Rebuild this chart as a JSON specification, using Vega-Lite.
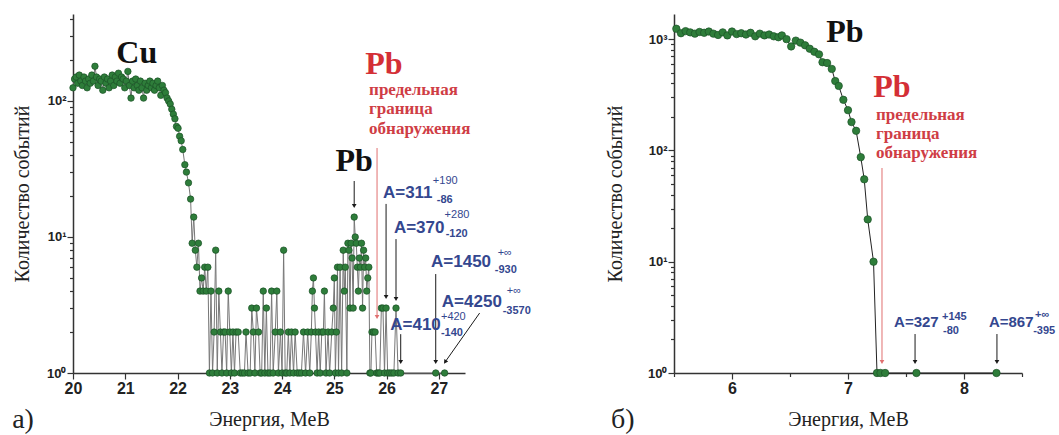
{
"$schema": "https://vega.github.io/schema/vega-lite/v6.json",
"background": "white",
"padding": {"left": 12, "top": 13, "right": 0, "bottom": 0},
"config": {"view": {"stroke": null}, "axis": {"grid": false, "domainColor": "#333", "domainWidth": 1.5, "tickColor": "#333", "tickWidth": 1.2, "labelFont": "'Liberation Sans', Arial, Helvetica, sans-serif", "labelFontWeight": "bold", "labelColor": "#222", "titleFont": "'Liberation Serif', 'Times New Roman', 'DejaVu Serif', serif", "titleFontWeight": "normal", "titleFontSize": 20, "titleColor": "#222", "labelOverlap": false, "labelFlush": false}},
"datasets": {
"a": [
{"E":20.00,"n":125},{"E":20.03,"n":145},{"E":20.06,"n":150},{"E":20.09,"n":135},{"E":20.12,"n":155},{"E":20.15,"n":140},{"E":20.18,"n":130},{"E":20.21,"n":150},{"E":20.24,"n":140},{"E":20.27,"n":125},{"E":20.30,"n":145},{"E":20.33,"n":135},{"E":20.36,"n":155},{"E":20.39,"n":140},{"E":20.42,"n":180},{"E":20.45,"n":150},{"E":20.48,"n":130},{"E":20.51,"n":145},{"E":20.54,"n":140},{"E":20.57,"n":120},{"E":20.60,"n":150},{"E":20.63,"n":135},{"E":20.66,"n":145},{"E":20.69,"n":125},{"E":20.72,"n":140},{"E":20.75,"n":155},{"E":20.78,"n":130},{"E":20.81,"n":150},{"E":20.84,"n":140},{"E":20.87,"n":160},{"E":20.90,"n":135},{"E":20.93,"n":150},{"E":20.96,"n":145},{"E":20.99,"n":125},{"E":21.02,"n":140},{"E":21.05,"n":165},{"E":21.08,"n":130},{"E":21.11,"n":105},{"E":21.14,"n":140},{"E":21.17,"n":125},{"E":21.20,"n":145},{"E":21.23,"n":130},{"E":21.26,"n":120},{"E":21.29,"n":140},{"E":21.32,"n":125},{"E":21.35,"n":105},{"E":21.38,"n":135},{"E":21.41,"n":120},{"E":21.44,"n":130},{"E":21.47,"n":140},{"E":21.50,"n":125},{"E":21.53,"n":135},{"E":21.56,"n":120},{"E":21.59,"n":130},{"E":21.62,"n":140},{"E":21.65,"n":125},{"E":21.68,"n":110},{"E":21.71,"n":130},{"E":21.74,"n":120},{"E":21.77,"n":115},{"E":21.80,"n":105},
{"E":21.83,"n":100},{"E":21.86,"n":95},{"E":21.89,"n":87},{"E":21.92,"n":80},{"E":21.95,"n":74},{"E":21.98,"n":65},{"E":22.01,"n":63},{"E":22.04,"n":55},{"E":22.07,"n":51},{"E":22.10,"n":44},{"E":22.14,"n":34},{"E":22.17,"n":30},{"E":22.21,"n":25},{"E":22.25,"n":19},{"E":22.28,"n":9},{"E":22.31,"n":14},{"E":22.34,"n":8},{"E":22.37,"n":6},{"E":22.40,"n":9},{"E":22.43,"n":4},{"E":22.46,"n":5},{"E":22.49,"n":4},{"E":22.52,"n":6},{"E":22.55,"n":4},{"E":22.58,"n":6},{"E":22.61,"n":1},{"E":22.64,"n":4},{"E":22.67,"n":1},{"E":22.70,"n":2},{"E":22.73,"n":8},{"E":22.76,"n":1},{"E":22.79,"n":4},{"E":22.82,"n":2},{"E":22.85,"n":1},{"E":22.88,"n":2},{"E":22.91,"n":2},{"E":22.94,"n":1},{"E":22.97,"n":4},{"E":23.00,"n":2},{"E":23.03,"n":1},{"E":23.06,"n":2},{"E":23.09,"n":1},{"E":23.12,"n":2},{"E":23.16,"n":2},{"E":23.20,"n":1},{"E":23.24,"n":1},{"E":23.28,"n":1},{"E":23.31,"n":2},{"E":23.35,"n":1},{"E":23.39,"n":1},{"E":23.42,"n":3},{"E":23.45,"n":2},{"E":23.48,"n":1},{"E":23.51,"n":3},{"E":23.55,"n":2},{"E":23.58,"n":1},{"E":23.61,"n":1},{"E":23.64,"n":4},{"E":23.67,"n":1},{"E":23.70,"n":3},{"E":23.73,"n":1},{"E":23.77,"n":1},{"E":23.80,"n":4},{"E":23.83,"n":1},{"E":23.87,"n":2},{"E":23.90,"n":4},{"E":23.93,"n":1},{"E":23.97,"n":2},{"E":24.00,"n":1},{"E":24.03,"n":8},{"E":24.06,"n":1},{"E":24.09,"n":1},{"E":24.12,"n":2},{"E":24.15,"n":1},{"E":24.18,"n":2},{"E":24.22,"n":1},{"E":24.25,"n":2},{"E":24.29,"n":1},{"E":24.33,"n":1},{"E":24.37,"n":1},{"E":24.41,"n":2},{"E":24.45,"n":1},{"E":24.49,"n":2},{"E":24.53,"n":1},{"E":24.56,"n":2},{"E":24.58,"n":4},{"E":24.60,"n":5},{"E":24.62,"n":3},{"E":24.64,"n":2},{"E":24.67,"n":1},{"E":24.70,"n":2},{"E":24.73,"n":1},{"E":24.76,"n":2},{"E":24.79,"n":2},{"E":24.81,"n":4},{"E":24.84,"n":1},{"E":24.88,"n":2},{"E":24.91,"n":1},{"E":24.95,"n":2},{"E":24.98,"n":3},{"E":25.00,"n":5},{"E":25.02,"n":1},{"E":25.04,"n":2},{"E":25.06,"n":6},{"E":25.08,"n":1},{"E":25.11,"n":6},{"E":25.14,"n":1},{"E":25.17,"n":8},{"E":25.19,"n":4},{"E":25.21,"n":6},{"E":25.24,"n":1},{"E":25.26,"n":9},{"E":25.28,"n":8},{"E":25.30,"n":3},{"E":25.32,"n":9},{"E":25.34,"n":7},{"E":25.36,"n":3},{"E":25.38,"n":14},{"E":25.40,"n":10},{"E":25.42,"n":9},{"E":25.44,"n":6},{"E":25.46,"n":4},{"E":25.48,"n":7},{"E":25.50,"n":6},{"E":25.52,"n":9},{"E":25.54,"n":3},{"E":25.56,"n":8},{"E":25.58,"n":6},{"E":25.60,"n":7},{"E":25.62,"n":4},{"E":25.64,"n":5},{"E":25.66,"n":6},{"E":25.68,"n":1},{"E":25.70,"n":1},{"E":25.72,"n":2},{"E":25.75,"n":2},{"E":25.78,"n":2},{"E":25.81,"n":1},{"E":25.84,"n":1},{"E":25.87,"n":1},{"E":25.90,"n":3},{"E":25.93,"n":3},{"E":25.96,"n":1},{"E":25.99,"n":3},{"E":26.02,"n":1},{"E":26.06,"n":1},{"E":26.10,"n":1},{"E":26.14,"n":1},{"E":26.18,"n":3},{"E":26.22,"n":1},{"E":26.27,"n":1},{"E":26.94,"n":1},{"E":27.11,"n":1}
],
"b": [
{"E":5.52,"n":1240},{"E":5.56,"n":1130},{"E":5.60,"n":1180},{"E":5.64,"n":1150},{"E":5.68,"n":1120},{"E":5.72,"n":1160},{"E":5.76,"n":1140},{"E":5.80,"n":1170},{"E":5.84,"n":1120},{"E":5.88,"n":1090},{"E":5.92,"n":1150},{"E":5.96,"n":1080},{"E":6.00,"n":1170},{"E":6.04,"n":1110},{"E":6.08,"n":1130},{"E":6.12,"n":1100},{"E":6.16,"n":1140},{"E":6.20,"n":1060},{"E":6.24,"n":1120},{"E":6.28,"n":1080},{"E":6.32,"n":1100},{"E":6.36,"n":1060},{"E":6.40,"n":1040},{"E":6.43,"n":1080},{"E":6.47,"n":1000},{"E":6.51,"n":860},{"E":6.55,"n":970},{"E":6.59,"n":930},{"E":6.63,"n":880},{"E":6.67,"n":820},{"E":6.71,"n":770},{"E":6.75,"n":730},{"E":6.78,"n":620},{"E":6.82,"n":610},{"E":6.86,"n":540},{"E":6.89,"n":420},{"E":6.92,"n":380},{"E":6.96,"n":285},{"E":7.00,"n":230},{"E":7.03,"n":180},{"E":7.07,"n":150},{"E":7.11,"n":87},{"E":7.14,"n":55},{"E":7.17,"n":24},{"E":7.22,"n":10},{"E":7.25,"n":1},{"E":7.28,"n":1},{"E":7.32,"n":1},{"E":7.59,"n":1},{"E":8.28,"n":1}
],
"tL": [
{"E":21.22,"n":190,"t":"Cu","k":"big"},{"E":25.38,"n":30.6,"t":"Pb","k":"big"},{"E":25.95,"n":158,"t":"Pb","k":"bigred"},
{"E":25.665,"n":110.7,"t":"предельная","k":"red"},{"E":25.665,"n":80.2,"t":"граница","k":"red"},{"E":25.665,"n":57.2,"t":"обнаружения","k":"red"},
{"E":25.93,"n":19.4,"t":"A=311","k":"main"},{"E":26.885,"n":24.6,"t":"+190","k":"sup"},{"E":26.96,"n":17.8,"t":"-86","k":"sub"},
{"E":26.14,"n":10.7,"t":"A=370","k":"main"},{"E":27.11,"n":13.8,"t":"+280","k":"sup"},{"E":27.13,"n":10,"t":"-120","k":"sub"},
{"E":26.85,"n":6.02,"t":"A=1450","k":"main"},{"E":28.125,"n":7.24,"t":"+∞","k":"sup"},{"E":28.07,"n":5.43,"t":"-930","k":"sub"},
{"E":27.057,"n":3.05,"t":"A=4250","k":"main"},{"E":28.30,"n":3.78,"t":"+∞","k":"sup"},{"E":28.22,"n":2.71,"t":"-3570","k":"sub"},
{"E":26.07,"n":2.07,"t":"A=410","k":"main"},{"E":27.04,"n":2.47,"t":"+420","k":"sup"},{"E":27.04,"n":1.87,"t":"-140","k":"sub"},
{"E":18.836,"n":0.394,"t":"а)","k":"panel"}
],
"rL": [
{"E":25.38,"n":25.8,"E2":25.38,"n2":16.9,"k":"black"},
{"E":25.99,"n":17.5,"E2":25.99,"n2":3.62,"k":"black"},
{"E":26.18,"n":9.65,"E2":26.18,"n2":3.5,"k":"black"},
{"E":26.94,"n":5.34,"E2":26.94,"n2":1.205,"k":"black"},
{"E":26.27,"n":1.93,"E2":26.27,"n2":1.205,"k":"black"},
{"E":25.817,"n":45.1,"E2":25.817,"n2":2.58,"k":"red"}
],
"dL": [
{"E":27.78,"n":2.76,"E2":27.12,"n2":1.205,"k":"black"}
],
"tR": [
{"E":6.974,"n":942,"t":"Pb","k":"big"},{"E":7.379,"n":302,"t":"Pb","k":"bigred"},
{"E":7.241,"n":187.6,"t":"предельная","k":"red"},{"E":7.241,"n":126.6,"t":"граница","k":"red"},{"E":7.241,"n":85.5,"t":"обнаружения","k":"red"},
{"E":7.397,"n":2.59,"t":"A=327","k":"main"},{"E":7.81,"n":3.02,"t":"+145","k":"sup"},{"E":7.819,"n":2.22,"t":"-80","k":"sub"},
{"E":8.215,"n":2.59,"t":"A=867","k":"main"},{"E":8.612,"n":3.1,"t":"+∞","k":"sup"},{"E":8.596,"n":2.22,"t":"-395","k":"sub"},
{"E":4.957,"n":0.32,"t":"б)","k":"panel"}
],
"rR": [
{"E":7.293,"n":69.5,"E2":7.293,"n2":1.255,"k":"red"},
{"E":7.578,"n":2.24,"E2":7.578,"n2":1.255,"k":"black"},
{"E":8.284,"n":2.24,"E2":8.284,"n2":1.255,"k":"black"}
]
},
"bounds": "flush",
"spacing": 209,
"hconcat": [
{
"width": 392, "height": 359,
"layer": [
{"data": {"name": "a"}, "mark": {"type": "line", "color": "#777777", "strokeWidth": 1},
 "encoding": {
  "x": {"field": "E", "type": "quantitative", "scale": {"domain": [20, 27.5], "nice": false, "zero": false},
   "axis": {"title": "Энергия, МеВ", "values": [20,20.5,21,21.5,22,22.5,23,23.5,24,24.5,25,25.5,26,26.5,27,27.5], "labelExpr": "datum.value % 1 === 0 ? format(datum.value, 'd') : ''", "tickSize": {"condition": {"test": "datum.value % 1 === 0", "value": 6}, "value": 3.5}, "labelFontSize": 16, "labelPadding": 1, "titlePadding": 13}},
  "y": {"field": "n", "type": "quantitative", "scale": {"type": "log", "domain": [1, 436], "nice": false},
   "axis": {"title": "Количество событий", "values": [1,2,3,4,5,6,7,8,9,10,20,30,40,50,60,70,80,90,100,200,300,400], "labelExpr": "datum.value===1?'10⁰':datum.value===10?'10¹':datum.value===100?'10²':datum.value===1000?'10³':''", "tickSize": {"condition": {"test": "indexof([1,10,100,1000], datum.value) >= 0", "value": 6}, "value": 3.5}, "labelFontSize": 13, "labelPadding": 1, "titlePadding": 14}}
 }},
{"data": {"name": "a"}, "mark": {"type": "point", "filled": true, "color": "#2e7d3a", "stroke": "#1b5227", "strokeWidth": 0.7, "opacity": 1, "size": 42},
 "encoding": {"x": {"field": "E", "type": "quantitative"}, "y": {"field": "n", "type": "quantitative"}}},
{"data": {"name": "rL"}, "mark": {"type": "rule", "strokeWidth": 1},
 "encoding": {"x": {"field": "E", "type": "quantitative"}, "y": {"field": "n", "type": "quantitative"}, "x2": {"field": "E2"}, "y2": {"field": "n2"},
  "color": {"field": "k", "type": "nominal", "scale": {"domain": ["black", "red"], "range": ["#1a1a1a", "#e07070"]}, "legend": null}}},
{"data": {"name": "rL"}, "mark": {"type": "point", "shape": "triangle-down", "filled": true, "opacity": 1, "size": 22},
 "encoding": {"x": {"field": "E2", "type": "quantitative"}, "y": {"field": "n2", "type": "quantitative"},
  "color": {"field": "k", "type": "nominal", "scale": {"domain": ["black", "red"], "range": ["#1a1a1a", "#e03030"]}, "legend": null}}},
{"data": {"name": "dL"}, "mark": {"type": "rule", "strokeWidth": 1, "color": "#1a1a1a"},
 "encoding": {"x": {"field": "E", "type": "quantitative"}, "y": {"field": "n", "type": "quantitative"}, "x2": {"field": "E2"}, "y2": {"field": "n2"}}},
{"data": {"name": "dL"}, "mark": {"type": "point", "shape": "triangle-down", "filled": true, "opacity": 1, "size": 22, "angle": 34, "color": "#1a1a1a"},
 "encoding": {"x": {"field": "E2", "type": "quantitative"}, "y": {"field": "n2", "type": "quantitative"}}},
{"data": {"name": "tL"}, "transform": [{"filter": "datum.k === 'big'"}], "mark": {"type": "text", "font": "'Liberation Serif', 'Times New Roman', 'DejaVu Serif', serif", "fontWeight": "bold", "fontSize": 32, "align": "center", "baseline": "alphabetic", "color": "#111"},
 "encoding": {"x": {"field": "E", "type": "quantitative"}, "y": {"field": "n", "type": "quantitative"}, "text": {"field": "t"}}},
{"data": {"name": "tL"}, "transform": [{"filter": "datum.k === 'bigred'"}], "mark": {"type": "text", "font": "'Liberation Serif', 'Times New Roman', 'DejaVu Serif', serif", "fontWeight": "bold", "fontSize": 32, "align": "center", "baseline": "alphabetic", "color": "#d42f36"},
 "encoding": {"x": {"field": "E", "type": "quantitative"}, "y": {"field": "n", "type": "quantitative"}, "text": {"field": "t"}}},
{"data": {"name": "tL"}, "transform": [{"filter": "datum.k === 'red'"}], "mark": {"type": "text", "font": "'Liberation Serif', 'Times New Roman', 'DejaVu Serif', serif", "fontWeight": "bold", "fontSize": 17, "align": "left", "baseline": "alphabetic", "color": "#cf3d45"},
 "encoding": {"x": {"field": "E", "type": "quantitative"}, "y": {"field": "n", "type": "quantitative"}, "text": {"field": "t"}}},
{"data": {"name": "tL"}, "transform": [{"filter": "datum.k === 'main'"}], "mark": {"type": "text", "font": "'Liberation Sans', Arial, Helvetica, sans-serif", "fontWeight": "bold", "fontSize": 17, "align": "left", "baseline": "alphabetic", "color": "#34478f"},
 "encoding": {"x": {"field": "E", "type": "quantitative"}, "y": {"field": "n", "type": "quantitative"}, "text": {"field": "t"}}},
{"data": {"name": "tL"}, "transform": [{"filter": "datum.k === 'sup'"}], "mark": {"type": "text", "font": "'Liberation Sans', Arial, Helvetica, sans-serif", "fontWeight": "normal", "fontSize": 11, "align": "left", "baseline": "alphabetic", "color": "#34478f"},
 "encoding": {"x": {"field": "E", "type": "quantitative"}, "y": {"field": "n", "type": "quantitative"}, "text": {"field": "t"}}},
{"data": {"name": "tL"}, "transform": [{"filter": "datum.k === 'sub'"}], "mark": {"type": "text", "font": "'Liberation Sans', Arial, Helvetica, sans-serif", "fontWeight": "bold", "fontSize": 11, "align": "left", "baseline": "alphabetic", "color": "#34478f"},
 "encoding": {"x": {"field": "E", "type": "quantitative"}, "y": {"field": "n", "type": "quantitative"}, "text": {"field": "t"}}},
{"data": {"name": "tL"}, "transform": [{"filter": "datum.k === 'panel'"}], "mark": {"type": "text", "font": "'Liberation Serif', 'Times New Roman', 'DejaVu Serif', serif", "fontWeight": "normal", "fontSize": 28, "align": "left", "baseline": "alphabetic", "color": "#222"},
 "encoding": {"x": {"field": "E", "type": "quantitative"}, "y": {"field": "n", "type": "quantitative"}, "text": {"field": "t"}}}
]
},
{
"width": 348, "height": 359,
"layer": [
{"data": {"name": "b"}, "mark": {"type": "line", "color": "#222", "strokeWidth": 1},
 "encoding": {
  "x": {"field": "E", "type": "quantitative", "scale": {"domain": [5.5, 8.5], "nice": false, "zero": false},
   "axis": {"title": "Энергия, МеВ", "values": [5.5,6,6.5,7,7.5,8,8.5], "labelExpr": "datum.value % 1 === 0 ? format(datum.value, 'd') : ''", "tickSize": {"condition": {"test": "datum.value % 1 === 0", "value": 6}, "value": 3.5}, "labelFontSize": 16, "labelPadding": 1, "titlePadding": 13}},
  "y": {"field": "n", "type": "quantitative", "scale": {"type": "log", "domain": [1, 1682], "nice": false},
   "axis": {"title": "Количество событий", "values": [1,2,3,4,5,6,7,8,9,10,20,30,40,50,60,70,80,90,100,200,300,400,500,600,700,800,900,1000], "labelExpr": "datum.value===1?'10⁰':datum.value===10?'10¹':datum.value===100?'10²':datum.value===1000?'10³':''", "tickSize": {"condition": {"test": "indexof([1,10,100,1000], datum.value) >= 0", "value": 6}, "value": 3.5}, "labelFontSize": 13, "labelPadding": 1, "titlePadding": 22}}
 }},
{"data": {"name": "b"}, "mark": {"type": "point", "filled": true, "color": "#2e7d3a", "stroke": "#1b5227", "strokeWidth": 0.7, "opacity": 1, "size": 55},
 "encoding": {"x": {"field": "E", "type": "quantitative"}, "y": {"field": "n", "type": "quantitative"}}},
{"data": {"name": "rR"}, "mark": {"type": "rule", "strokeWidth": 1},
 "encoding": {"x": {"field": "E", "type": "quantitative"}, "y": {"field": "n", "type": "quantitative"}, "x2": {"field": "E2"}, "y2": {"field": "n2"},
  "color": {"field": "k", "type": "nominal", "scale": {"domain": ["black", "red"], "range": ["#1a1a1a", "#e07070"]}, "legend": null}}},
{"data": {"name": "rR"}, "mark": {"type": "point", "shape": "triangle-down", "filled": true, "opacity": 1, "size": 22},
 "encoding": {"x": {"field": "E2", "type": "quantitative"}, "y": {"field": "n2", "type": "quantitative"},
  "color": {"field": "k", "type": "nominal", "scale": {"domain": ["black", "red"], "range": ["#1a1a1a", "#e03030"]}, "legend": null}}},
{"data": {"name": "tR"}, "transform": [{"filter": "datum.k === 'big'"}], "mark": {"type": "text", "font": "'Liberation Serif', 'Times New Roman', 'DejaVu Serif', serif", "fontWeight": "bold", "fontSize": 32, "align": "center", "baseline": "alphabetic", "color": "#111"},
 "encoding": {"x": {"field": "E", "type": "quantitative"}, "y": {"field": "n", "type": "quantitative"}, "text": {"field": "t"}}},
{"data": {"name": "tR"}, "transform": [{"filter": "datum.k === 'bigred'"}], "mark": {"type": "text", "font": "'Liberation Serif', 'Times New Roman', 'DejaVu Serif', serif", "fontWeight": "bold", "fontSize": 32, "align": "center", "baseline": "alphabetic", "color": "#d42f36"},
 "encoding": {"x": {"field": "E", "type": "quantitative"}, "y": {"field": "n", "type": "quantitative"}, "text": {"field": "t"}}},
{"data": {"name": "tR"}, "transform": [{"filter": "datum.k === 'red'"}], "mark": {"type": "text", "font": "'Liberation Serif', 'Times New Roman', 'DejaVu Serif', serif", "fontWeight": "bold", "fontSize": 17, "align": "left", "baseline": "alphabetic", "color": "#cf3d45"},
 "encoding": {"x": {"field": "E", "type": "quantitative"}, "y": {"field": "n", "type": "quantitative"}, "text": {"field": "t"}}},
{"data": {"name": "tR"}, "transform": [{"filter": "datum.k === 'main'"}], "mark": {"type": "text", "font": "'Liberation Sans', Arial, Helvetica, sans-serif", "fontWeight": "bold", "fontSize": 15, "align": "left", "baseline": "alphabetic", "color": "#34478f"},
 "encoding": {"x": {"field": "E", "type": "quantitative"}, "y": {"field": "n", "type": "quantitative"}, "text": {"field": "t"}}},
{"data": {"name": "tR"}, "transform": [{"filter": "datum.k === 'sup'"}], "mark": {"type": "text", "font": "'Liberation Sans', Arial, Helvetica, sans-serif", "fontWeight": "bold", "fontSize": 11, "align": "left", "baseline": "alphabetic", "color": "#34478f"},
 "encoding": {"x": {"field": "E", "type": "quantitative"}, "y": {"field": "n", "type": "quantitative"}, "text": {"field": "t"}}},
{"data": {"name": "tR"}, "transform": [{"filter": "datum.k === 'sub'"}], "mark": {"type": "text", "font": "'Liberation Sans', Arial, Helvetica, sans-serif", "fontWeight": "bold", "fontSize": 11, "align": "left", "baseline": "alphabetic", "color": "#34478f"},
 "encoding": {"x": {"field": "E", "type": "quantitative"}, "y": {"field": "n", "type": "quantitative"}, "text": {"field": "t"}}},
{"data": {"name": "tR"}, "transform": [{"filter": "datum.k === 'panel'"}], "mark": {"type": "text", "font": "'Liberation Serif', 'Times New Roman', 'DejaVu Serif', serif", "fontWeight": "normal", "fontSize": 28, "align": "left", "baseline": "alphabetic", "color": "#222"},
 "encoding": {"x": {"field": "E", "type": "quantitative"}, "y": {"field": "n", "type": "quantitative"}, "text": {"field": "t"}}}
]
}
]
}
